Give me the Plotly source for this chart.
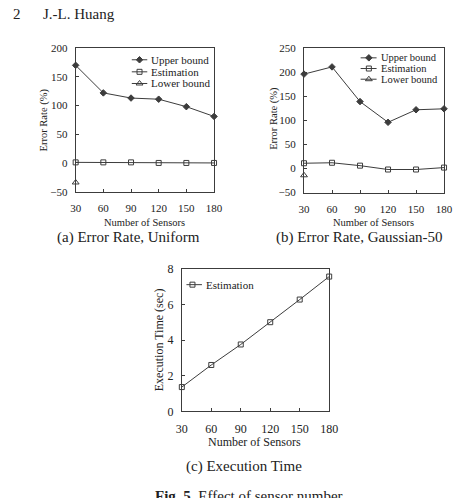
import plotly.graph_objects as go

W, H = 463, 498

# ---- data ----
sensors = [30, 60, 90, 120, 150, 180]
x_ticks = [30, 60, 90, 120, 150, 180]

a_upper = [170, 122, 113, 111, 98, 81]
a_est = [1, 1, 1, 0, 0, 0]
a_lower = [-34, None, None, None, None, None]
a_yticks = [-50, 0, 50, 100, 150, 200]

b_upper = [196, 211, 139, 96, 122, 124]
b_est = [11, 12, 6, -2, -2, 2]
b_lower = [-14, None, None, None, None, None]
b_yticks = [-50, 0, 50, 100, 150, 200, 250]

c_est = [1.36, 2.6, 3.75, 5.0, 6.27, 7.56]
c_yticks = [0, 2, 4, 6, 8]

series_names = ["Upper bound", "Estimation", "Lower bound"]

# ---- styles ----
LINE = "#3c3c3c"
TXT = "#222222"
SERIF = "Liberation Serif, Times New Roman, serif"
sym = {"Upper bound": ("diamond", 5), "Estimation": ("square-open", 5),
       "Lower bound": ("triangle-up-open", 6)}


def px_dom_x(a, b):
    return [a / W, b / W]


def px_dom_y(top, bottom):
    return [1 - bottom / H, 1 - top / H]


fig = go.Figure()


def add_series(xa, ya, ys, name):
    s, sz = sym[name]
    fig.add_trace(go.Scatter(
        x=sensors, y=ys, mode="lines+markers", name=name, showlegend=False,
        xaxis=xa, yaxis=ya, cliponaxis=False,
        line=dict(color=LINE, width=1),
        marker=dict(symbol=s, size=sz, color=LINE, line=dict(color=LINE, width=1)),
    ))


add_series("x", "y", a_upper, "Upper bound")
add_series("x", "y", a_est, "Estimation")
add_series("x", "y", a_lower, "Lower bound")
add_series("x2", "y2", b_upper, "Upper bound")
add_series("x2", "y2", b_est, "Estimation")
add_series("x2", "y2", b_lower, "Lower bound")
add_series("x3", "y3", c_est, "Estimation")

# ---- manual legends on a pixel helper axis ----
annotations = []


def legend(x0, x1, xm, xt, rows, names, fsize):
    for yy, nm in zip(rows, names):
        s, sz = sym[nm]
        fig.add_trace(go.Scatter(x=[x0, x1], y=[yy, yy], mode="lines", xaxis="x4", yaxis="y4",
                                 showlegend=False, hoverinfo="skip", line=dict(color=LINE, width=1)))
        fig.add_trace(go.Scatter(x=[xm], y=[yy], mode="markers", xaxis="x4", yaxis="y4",
                                 showlegend=False, hoverinfo="skip",
                                 marker=dict(symbol=s, size=sz, color=LINE, line=dict(color=LINE, width=1))))
        annotations.append(dict(x=xt, y=yy, xref="x4", yref="y4", text=nm, showarrow=False,
                                xanchor="left", yanchor="middle",
                                font=dict(family=SERIF, size=fsize, color=TXT)))


legend(130, 146, 138, 148, [54.3, 66.7, 78.7], series_names, 11)
legend(366.5, 383, 375, 385, [52.3, 63.3, 74.3], series_names, 10.5)
legend(186.5, 202.5, 192.7, 205, [285.7], ["Estimation"], 11)


def ann(x, y, text, size, angle=0, xanchor="center", yanchor="middle"):
    annotations.append(dict(x=x, y=y, xref="x4", yref="y4", text=text, showarrow=False,
                            textangle=angle, xanchor=xanchor, yanchor=yanchor,
                            font=dict(family=SERIF, size=size, color=TXT)))


# axis titles
ann(143, 222, "Number of Sensors", 10.5)
ann(39, 116, "Error Rate (%)", 10.5, angle=-90)
ann(380, 222, "Number of Sensors", 10.5)
ann(277, 115, "Error Rate (%)", 10.5, angle=-90)
ann(257, 448, "Number of Sensors", 12)
ann(159, 342, "Execution Time (sec)", 12, angle=-90)

# captions & page text
ann(127, 237, "(a) Error Rate, Uniform", 15)
ann(365, 237, "(b) Error Rate, Gaussian-50", 15)
ann(246, 473, "(c) Execution Time", 15)
ann(5, 7, "2", 15, xanchor="left")
ann(36, 7, "J.-L. Huang", 15, xanchor="left")
ann(152, 493, "<b>Fig. 5.</b> Effect of sensor number", 15, xanchor="left", yanchor="top")


def xaxis_cfg(dom, anchor, fsize):
    return dict(domain=dom, anchor=anchor, range=[30, 180], tickvals=x_ticks,
                showgrid=False, zeroline=False, showline=True, linecolor=LINE, linewidth=1,
                mirror=True, ticks="inside", ticklen=3, tickcolor=LINE,
                tickfont=dict(family=SERIF, size=fsize, color=TXT), ticklabelstandoff=6)


def yaxis_cfg(dom, anchor, rng, tv, fsize):
    return dict(domain=dom, anchor=anchor, range=rng, tickvals=tv,
                showgrid=False, zeroline=False, showline=True, linecolor=LINE, linewidth=1,
                mirror=True, ticks="inside", ticklen=3, tickcolor=LINE,
                tickfont=dict(family=SERIF, size=fsize, color=TXT), ticklabelstandoff=5)


fig.update_layout(
    width=W, height=H, margin=dict(l=0, r=0, t=0, b=0),
    paper_bgcolor="white", plot_bgcolor="rgba(0,0,0,0)", showlegend=False,
    xaxis=xaxis_cfg(px_dom_x(72, 215), "y", 11),
    yaxis=yaxis_cfg(px_dom_y(42.3, 190), "x", [-50, 200], a_yticks, 11),
    xaxis2=xaxis_cfg(px_dom_x(308, 452.7), "y2", 11),
    yaxis2=yaxis_cfg(px_dom_y(42.3, 191), "x2", [-50, 250], b_yticks, 11),
    xaxis3=xaxis_cfg(px_dom_x(181.7, 334), "y3", 12),
    yaxis3=yaxis_cfg(px_dom_y(269.3, 416), "x3", [0, 8], c_yticks, 12),
    xaxis4=dict(domain=[0, 1], anchor="y4", range=[0, W], visible=False, fixedrange=True),
    yaxis4=dict(domain=[0, 1], anchor="x4", range=[H, 0], visible=False, fixedrange=True),
    annotations=annotations,
)

fig.write_html("out.html")
